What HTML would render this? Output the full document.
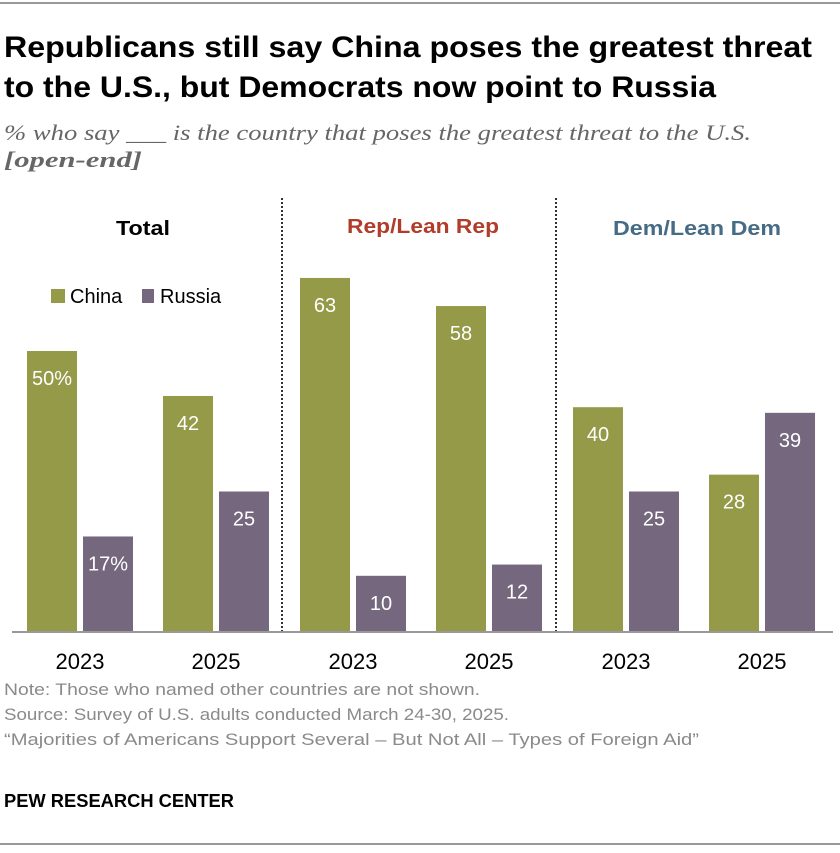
<!DOCTYPE html>
<html><head><meta charset="utf-8"><style>
body{margin:0;background:#fff;width:840px;height:848px;overflow:hidden;font-family:"Liberation Sans",sans-serif}
</style></head><body>
<svg width="840" height="848" xmlns="http://www.w3.org/2000/svg" font-family="Liberation Sans, sans-serif">
<line x1="0" y1="3" x2="840" y2="3" stroke="#999" stroke-width="2"/>
<text x="4" y="57" font-size="30" font-weight="bold" fill="#000" textLength="808" lengthAdjust="spacingAndGlyphs">Republicans still say China poses the greatest threat</text>
<text x="4" y="97" font-size="30" font-weight="bold" fill="#000" textLength="712" lengthAdjust="spacingAndGlyphs">to the U.S., but Democrats now point to Russia</text>
<text x="4" y="140" font-size="22" font-style="italic" fill="#666" font-family="Liberation Serif, serif" textLength="747" lengthAdjust="spacingAndGlyphs">% who say ___ is the country that poses the greatest threat to the U.S.</text>
<text x="4" y="167" font-size="22" font-style="italic" font-weight="bold" fill="#666" font-family="Liberation Serif, serif" textLength="138" lengthAdjust="spacingAndGlyphs">[open-end]</text>
<text x="143" y="235" font-size="20" font-weight="bold" text-anchor="middle" fill="#000" textLength="54" lengthAdjust="spacingAndGlyphs">Total</text>
<text x="423" y="233" font-size="20" font-weight="bold" text-anchor="middle" fill="#b13c2a" textLength="152" lengthAdjust="spacingAndGlyphs">Rep/Lean Rep</text>
<text x="697" y="235" font-size="20" font-weight="bold" text-anchor="middle" fill="#466b85" textLength="168" lengthAdjust="spacingAndGlyphs">Dem/Lean Dem</text>
<rect x="51" y="289" width="14" height="14" fill="#949a47"/>
<text x="70" y="303" font-size="20" fill="#000">China</text>
<rect x="142" y="289" width="12" height="14" fill="#75677e"/>
<text x="160" y="303" font-size="20" fill="#000">Russia</text>
<line x1="282" y1="198" x2="282" y2="632" stroke="#333" stroke-width="2" stroke-dasharray="2,2"/>
<line x1="556" y1="198" x2="556" y2="632" stroke="#333" stroke-width="2" stroke-dasharray="2,2"/>
<g id="bars"></g>
<line x1="12" y1="632" x2="833" y2="632" stroke="#999" stroke-width="2"/>
<text x="4" y="695" font-size="17" fill="#8a8a8a" textLength="476" lengthAdjust="spacingAndGlyphs">Note: Those who named other countries are not shown.</text>
<text x="4" y="720" font-size="17" fill="#8a8a8a" textLength="505" lengthAdjust="spacingAndGlyphs">Source: Survey of U.S. adults conducted March 24-30, 2025.</text>
<text x="4" y="745" font-size="17" fill="#8a8a8a" textLength="695" lengthAdjust="spacingAndGlyphs">“Majorities of Americans Support Several – But Not All – Types of Foreign Aid”</text>
<text x="4" y="807" font-size="18" font-weight="bold" fill="#000" textLength="230" lengthAdjust="spacingAndGlyphs">PEW RESEARCH CENTER</text>
<line x1="0" y1="844" x2="840" y2="844" stroke="#999" stroke-width="2"/>
</svg>
<script>
const groups=["Total","Rep","Dem"];
const years=["2023","2025","2023","2025","2023","2025"];
const china=[50,42,63,58,40,28];
const russia=[17,25,10,12,25,39];
const ns="http://www.w3.org/2000/svg";
const g=document.getElementById('bars');
const base=632, k=5.62;
function y(v){return base-v*k;}
const starts=[27,163,300,436,573,709];
function bar(x,v,color,label,name){
 const r=document.createElementNS(ns,'rect');
 r.setAttribute('x',x);r.setAttribute('y',y(v));r.setAttribute('width',50);r.setAttribute('height',v*k);r.setAttribute('fill',color);
 
 
 g.appendChild(r);
 const t=document.createElementNS(ns,'text');
 t.setAttribute('x',x+25);t.setAttribute('y',y(v)+34);t.setAttribute('text-anchor','middle');t.setAttribute('font-size','20');t.setAttribute('fill','#fff');
 t.textContent=label;
 
 
 g.appendChild(t);
}
for(let i=0;i<6;i++){
 const x=starts[i];
 bar(x,china[i],'#949a47',china[i]+(i===0?'%':''),'bar-china-'+i);
 bar(x+56,russia[i],'#75677e',russia[i]+(i===0?'%':''),'bar-russia-'+i);
 const t=document.createElementNS(ns,'text');
 t.setAttribute('x',x+53);t.setAttribute('y',669);t.setAttribute('text-anchor','middle');t.setAttribute('font-size','22');t.setAttribute('fill','#000');
 t.textContent=years[i];
 
 
 g.appendChild(t);
}
</script>
</body></html>
